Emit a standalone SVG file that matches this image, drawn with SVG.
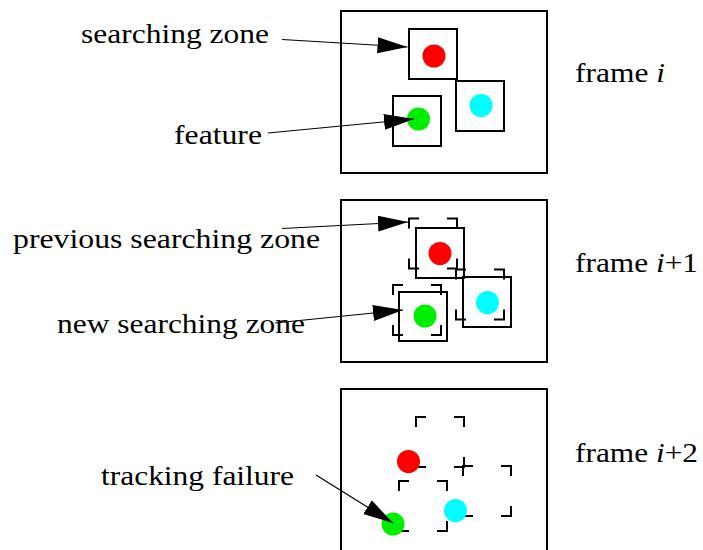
<svg xmlns="http://www.w3.org/2000/svg" width="703" height="550" viewBox="0 0 703 550">
  <style>
    .frame { fill: #fff; stroke: #000; stroke-width: 2; }
    .zone { fill: none; stroke: #000; stroke-width: 2; }
    .corner { fill: none; stroke: #000; stroke-width: 2; }
    .label { font-family: "Liberation Serif", "Times New Roman", serif; font-size: 27px; fill: #000; }
    .it { font-style: italic; }
    .conn { stroke: #000; stroke-width: 1.2; fill: none; marker-end: url(#head); }
    .red { fill: #ff0000; }
    .cyan { fill: #00ffff; }
    .green { fill: #00ee00; }
  </style>
  <defs>
    <marker id="head" markerUnits="userSpaceOnUse" markerWidth="31" markerHeight="17" refX="30" refY="8" orient="auto" viewBox="0 0 31 17">
      <path d="M0,0 L30,8 L0,16 Z" fill="#000"/>
    </marker>
    <!-- corner marks of a 48x50 searching zone, drawn at its top-left -->
    <path id="corners" class="corner" d="M0,10 V0 H10 M38,0 H48 V10 M0,40 V50 H10 M38,50 H48 V40"/>
  </defs>

  <rect width="703" height="550" fill="#fff"/>

  <!-- frame i -->
  <g id="frame-i">
    <rect class="frame" x="341" y="11" width="206" height="162"/>
    <g id="f1-red">
      <rect class="zone" x="409" y="29" width="48" height="50"/>
      <circle class="red" cx="434" cy="56" r="11.5"/>
    </g>
    <g id="f1-cyan">
      <rect class="zone" x="456" y="81" width="48" height="50"/>
      <circle class="cyan" cx="481" cy="105.5" r="11.5"/>
    </g>
    <g id="f1-green">
      <rect class="zone" x="393" y="96" width="48" height="50"/>
      <circle class="green" cx="418.5" cy="119" r="11.5"/>
    </g>
    <text class="label" x="575" y="82" textLength="90" lengthAdjust="spacingAndGlyphs">frame <tspan class="it">i</tspan></text>
  </g>

  <!-- frame i+1 -->
  <g id="frame-i1">
    <rect class="frame" x="341" y="200" width="206" height="162"/>
    <g id="f2-red">
      <use href="#corners" x="409" y="218.5"/>
      <rect class="zone" x="416" y="228" width="48" height="50"/>
      <circle class="red" cx="440" cy="253.5" r="11.5"/>
    </g>
    <g id="f2-cyan">
      <use href="#corners" x="456" y="269.5"/>
      <rect class="zone" x="463" y="277" width="48" height="50"/>
      <circle class="cyan" cx="487.5" cy="302.5" r="11.5"/>
    </g>
    <g id="f2-green">
      <use href="#corners" x="393" y="285"/>
      <rect class="zone" x="399" y="292" width="48" height="49"/>
      <circle class="green" cx="425" cy="316" r="11.5"/>
    </g>
    <text class="label" x="575" y="272" textLength="123" lengthAdjust="spacingAndGlyphs">frame <tspan class="it">i</tspan>+1</text>
  </g>

  <!-- frame i+2 -->
  <g id="frame-i2">
    <rect class="frame" x="341" y="389" width="206" height="175"/>
    <g id="f3-red">
      <use href="#corners" x="416" y="417"/>
      <circle class="red" cx="408.5" cy="461.5" r="11.5"/>
    </g>
    <g id="f3-cyan">
      <use href="#corners" x="463" y="466"/>
      <circle class="cyan" cx="455.5" cy="510.5" r="11.5"/>
    </g>
    <g id="f3-green">
      <use href="#corners" x="399" y="481"/>
      <circle class="green" cx="393" cy="524" r="11.5"/>
    </g>
    <text class="label" x="575" y="462" textLength="123" lengthAdjust="spacingAndGlyphs">frame <tspan class="it">i</tspan>+2</text>
  </g>

  <!-- callout labels -->
  <g id="labels">
    <text class="label" x="81" y="43" textLength="188" lengthAdjust="spacingAndGlyphs">searching zone</text>
    <text class="label" x="174" y="144" textLength="88" lengthAdjust="spacingAndGlyphs">feature</text>
    <text class="label" x="13" y="248" textLength="307" lengthAdjust="spacingAndGlyphs">previous searching zone</text>
    <text class="label" x="57" y="333" textLength="248" lengthAdjust="spacingAndGlyphs">new searching zone</text>
    <text class="label" x="101" y="485" textLength="193" lengthAdjust="spacingAndGlyphs">tracking failure</text>
  </g>

  <!-- connectors -->
  <g id="connectors">
    <line class="conn" x1="282" y1="39.5" x2="407.5" y2="47"/>
    <line class="conn" x1="268" y1="133" x2="414" y2="119"/>
    <line class="conn" x1="282" y1="228.5" x2="408" y2="222"/>
    <line class="conn" x1="275" y1="323" x2="403" y2="310"/>
    <line class="conn" x1="316" y1="475" x2="393" y2="523"/>
  </g>
</svg>
